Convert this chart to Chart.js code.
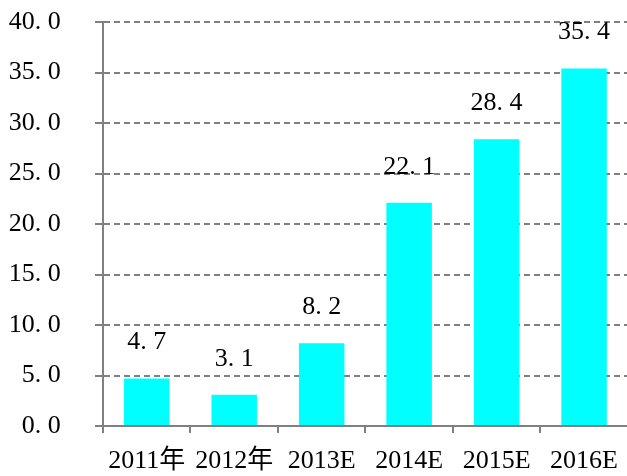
<!DOCTYPE html>
<html>
<head>
<meta charset="utf-8">
<script src="https://cdn.jsdelivr.net/npm/chart.js@4"></script>
<style>
  body { margin: 0; background: #fff; overflow: hidden; }
  #wrap { width: 627px; height: 476px; overflow: hidden; }
</style>
</head>
<body>
<div id="wrap">
<!-- canvas a bit wider than the window: the original plot runs past the right edge -->
<canvas id="chart" width="631" height="476"></canvas>
</div>
<script>
const categories = ['2011年', '2012年', '2013E', '2014E', '2015E', '2016E'];
const values = [4.7, 3.1, 8.2, 22.1, 28.4, 35.4];
const yTicks = [0, 5, 10, 15, 20, 25, 30, 35, 40];

const FONT = "'Liberation Serif', 'Noto Sans CJK SC', serif";

// SimSun-style number look: wide gap after the dot
function fmt(v) {
    return v.toFixed(1).replace('.', '. ');
}

const valueLabels = {
    id: 'valueLabels',
    afterDatasetsDraw(chart) {
        const ctx = chart.ctx;
        const meta = chart.getDatasetMeta(0);
        ctx.save();
        ctx.font = '26px ' + FONT;
        ctx.fillStyle = '#000';
        ctx.textAlign = 'center';
        ctx.textBaseline = 'middle';
        meta.data.forEach((bar, i) => {
            ctx.fillText(fmt(values[i]), bar.x, bar.y - 36);
        });
        ctx.restore();
    }
};

new Chart(document.getElementById('chart').getContext('2d'), {
    type: 'bar',
    data: {
        labels: categories,
        datasets: [{
            data: values,
            backgroundColor: '#00FFFF',
            borderWidth: 0,
            categoryPercentage: 1,
            barPercentage: 0.52
        }]
    },
    options: {
        responsive: false,
        animation: false,
        layout: { autoPadding: false, padding: { top: 22, right: 0, left: 0, bottom: 0 } },
        plugins: {
            legend: { display: false },
            tooltip: { enabled: false }
        },
        scales: {
            x: {
                afterFit(axis) {
                    axis.height = 50;
                },
                grid: {
                    drawOnChartArea: false,
                    drawTicks: true,
                    tickLength: 7,
                    color: '#808080',
                    lineWidth: 2
                },
                border: { color: '#808080', width: 2 },
                ticks: {
                    color: '#000',
                    padding: 13,
                    maxRotation: 0,
                    font: { family: FONT, size: 26 }
                }
            },
            y: {
                min: 0,
                max: 40,
                afterBuildTicks(axis) {
                    axis.ticks = yTicks.map(v => ({ value: v }));
                },
                afterFit(axis) {
                    axis.width = 103;
                },
                grid: {
                    color: '#808080',
                    lineWidth: 2,
                    tickLength: 8
                },
                border: { color: '#808080', width: 2, dash: [6, 4] },
                ticks: {
                    color: '#000',
                    padding: 3,
                    font: { family: FONT, size: 26 },
                    // trailing spaces push the labels away from the axis
                    // (a big ticks.padding also shifts the plot top down)
                    callback: v => fmt(v) + '\u2003\u2009'
                }
            }
        }
    },
    plugins: [valueLabels]
});
</script>
</body>
</html>
